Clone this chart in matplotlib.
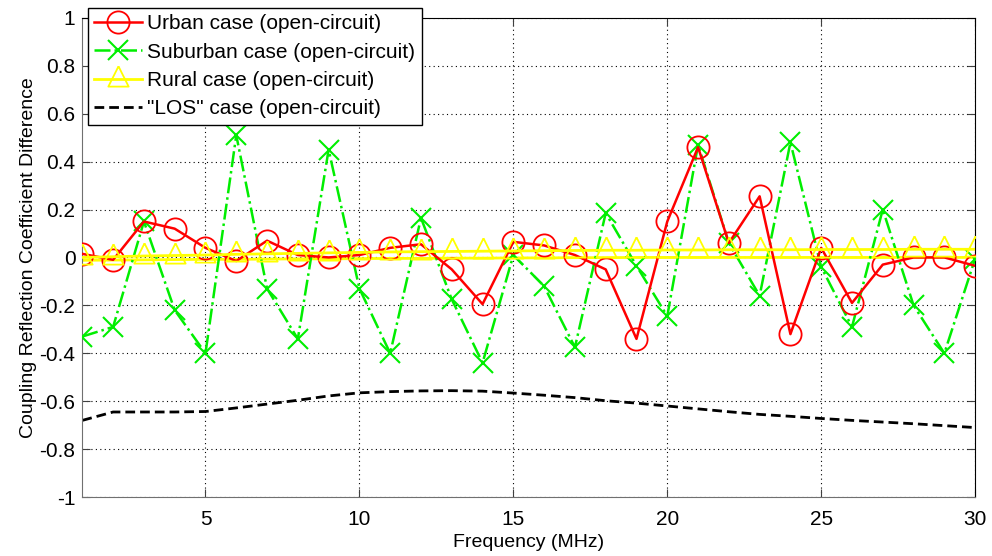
import numpy as np
import matplotlib
matplotlib.use("Agg")
import matplotlib.pyplot as plt
from matplotlib.ticker import FuncFormatter

plt.rcParams['font.family'] = ['Liberation Sans', 'DejaVu Sans']

# frequency points (MHz)
freq = list(range(1, 31))

urban = [0.015, -0.01, 0.15, 0.12, 0.04, -0.015, 0.07, 0.01, 0.0, 0.01,
         0.04, 0.055, -0.05, -0.195, 0.065, 0.05, 0.01, -0.05, -0.34, 0.15,
         0.46, 0.06, 0.255, -0.32, 0.04, -0.19, -0.03, 0.0, 0.0, -0.035]

suburban = [-0.33, -0.29, 0.15, -0.22, -0.40, 0.51, -0.13, -0.34, 0.45, -0.13,
            -0.40, 0.165, -0.175, -0.44, 0.01, -0.12, -0.375, 0.185, -0.035, -0.245,
            0.47, 0.06, -0.16, 0.48, -0.04, -0.29, 0.20, -0.20, -0.40, -0.005]

rural = [0.0, 0.003, 0.006, 0.008, 0.010, 0.013, 0.015, 0.017, 0.019, 0.021,
         0.023, 0.024, 0.025, 0.026, 0.027, 0.028, 0.029, 0.030, 0.030, 0.031,
         0.031, 0.032, 0.032, 0.032, 0.033, 0.033, 0.033, 0.034, 0.034, 0.034]

rural_flat = [-0.012, -0.011, -0.010, -0.009, -0.008, -0.008, -0.007, -0.006, -0.006, -0.005,
              -0.004, -0.004, -0.003, -0.003, -0.002, -0.002, -0.001, -0.001, 0.0, 0.0,
              0.0, 0.0, 0.0, 0.0, 0.0, 0.0, 0.0, 0.0, 0.0, 0.0]

los = [-0.68, -0.645, -0.645, -0.645, -0.643, -0.628, -0.612, -0.596, -0.578, -0.565,
       -0.56, -0.557, -0.556, -0.558, -0.566, -0.575, -0.585, -0.598, -0.608, -0.62,
       -0.632, -0.644, -0.655, -0.663, -0.672, -0.68, -0.687, -0.694, -0.702, -0.71]

labels = ['Urban case (open-circuit)', 'Suburban case (open-circuit)',
          'Rural case (open-circuit)', '"LOS" case (open-circuit)']

# triangle sitting a bit above its data point, like the matlab marker
tri = [(0, 1.3), (-1, -0.7), (1, -0.7), (0, 1.3)]


def fmt(v, pos):
    v = round(v, 1)
    if v == 0:
        return '0'
    return '%g' % v


fig = plt.figure(figsize=(9.92, 5.56), dpi=100)
ax = fig.add_axes([0.083, 0.106, 0.900, 0.862])

ax.plot(freq, rural_flat, color='#ffff00', lw=2, zorder=2)
h_rural, = ax.plot(freq, rural, color='#ffff00', lw=2, marker=tri, ms=19,
                   mfc='none', mec='#ffff00', mew=1.3, label=labels[2], zorder=4)
h_sub, = ax.plot(freq, suburban, color='#00ee00', lw=1.8, ls='-.', marker='x', ms=14,
                 mew=1.5, label=labels[1], zorder=3)
h_urban, = ax.plot(freq, urban, color='#ff0000', lw=1.8, marker='o', ms=16,
                   mfc='none', mec='#ff0000', mew=1.3, label=labels[0], zorder=3)
h_los, = ax.plot(freq, los, color='black', lw=2, ls=(0, (3.5, 1.8)), label=labels[3])

ax.set_xlim(1, 30)
ax.set_ylim(-1, 1)
ax.set_xticks([5, 10, 15, 20, 25, 30])
ax.set_yticks(np.arange(-1, 1.01, 0.2))
ax.yaxis.set_major_formatter(FuncFormatter(fmt))
ax.grid(True, color='black', ls=(0, (1, 3)), lw=0.8)
ax.tick_params(direction='in', length=6, labelsize=15, top=True, right=True,
               color='#404040')
ax.tick_params(axis='x', pad=9)
ax.tick_params(axis='y', pad=5)

for s in ['left', 'bottom']:
    ax.spines[s].set_color('#707070')
for s in ['top', 'right']:
    ax.spines[s].set_color('black')

ax.set_xlabel('Frequency (MHz)', fontsize=14, labelpad=4)
ax.set_ylabel('Coupling Reflection Coefficient Difference', fontsize=14, labelpad=2)

leg = ax.legend(handles=[h_urban, h_sub, h_rural, h_los], loc='upper left',
                bbox_to_anchor=(88 / 992, 1 - 8 / 556), bbox_transform=fig.transFigure,
                fontsize=15, fancybox=False, framealpha=1, edgecolor='black',
                borderaxespad=0, borderpad=0.3, labelspacing=0.45,
                handlelength=2.3, handletextpad=0.25)
leg.get_frame().set_linewidth(1.0)

fig.savefig('out.png', dpi=100)
